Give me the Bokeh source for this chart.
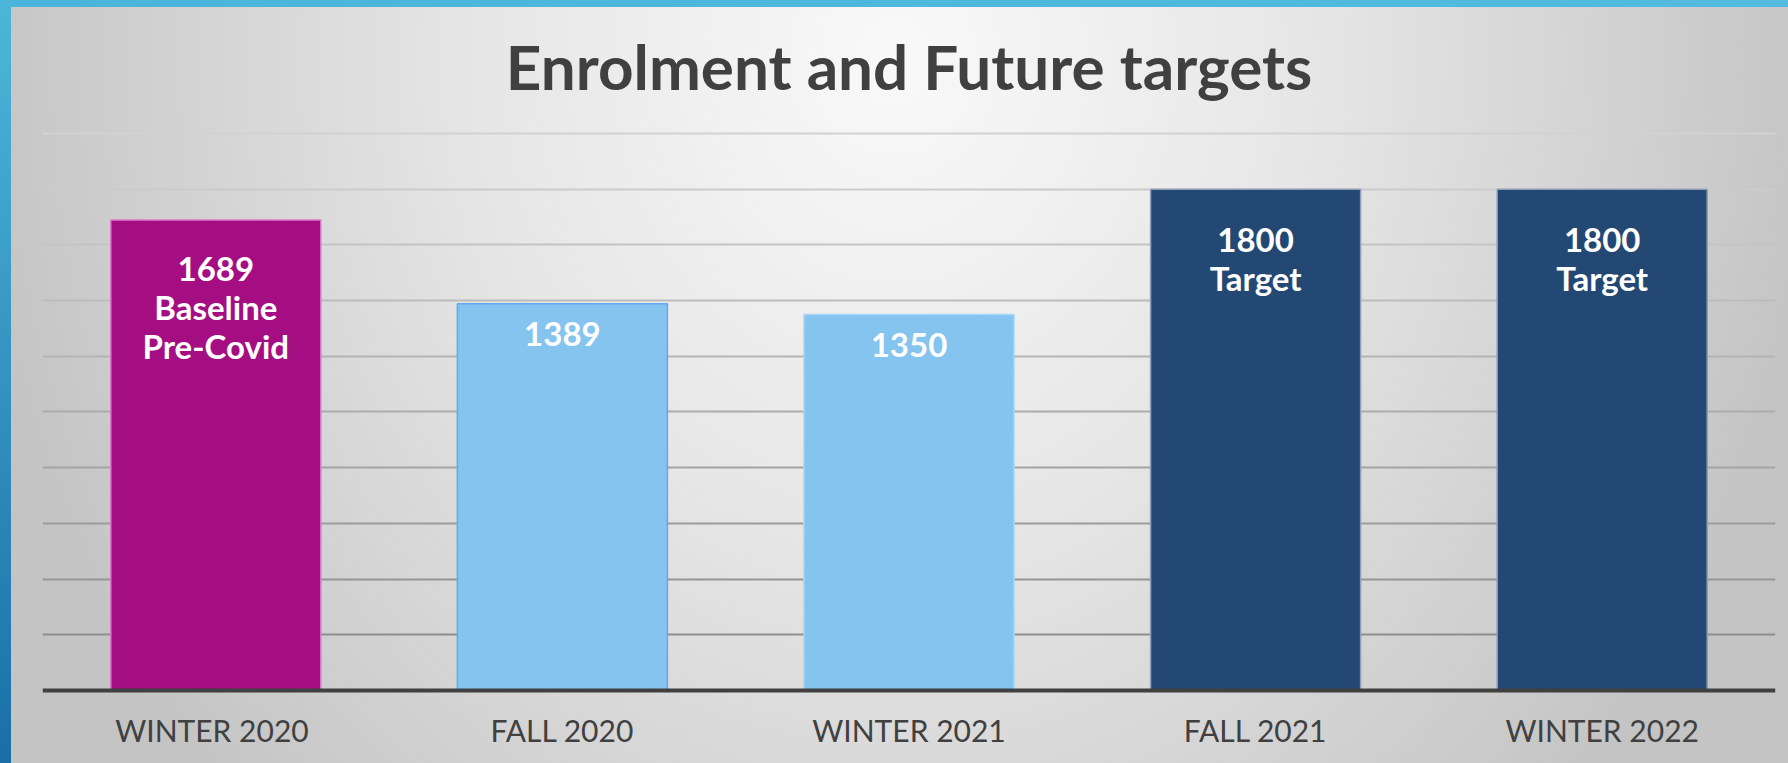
from bokeh.plotting import figure
from bokeh.models import ColumnDataSource, Range1d
from bokeh.core.properties import value
from bokeh.embed import file_html
from bokeh.resources import INLINE

# ---- data ----
categories = ["WINTER  2020", "FALL 2020", "WINTER 2021", "FALL 2021", "WINTER 2022"]
enrolment = [1689, 1389, 1350, 1800, 1800]
bar_labels = ["1689\nBaseline\nPre-Covid", "1389", "1350", "1800\nTarget", "1800\nTarget"]
grid_values = [200, 400, 600, 800, 1000, 1200, 1400, 1600, 1800, 2000]
title_text = "Enrolment and Future targets"

# ---- styles ----
bar_fill = ["#a50e82", "#85c4ef", "#85c4ef", "#244874", "#244874"]
bar_line = ["#d77cc7", "#62a9f2", "#a9d6f5", "#8e9fb6", "#8e9fb6"]
label_dy = [28, 18, 18, 29.5, 29.5]
grid_colors = ["#8e8e8e", "#959595", "#9c9c9c", "#a4a4a4", "#acacac",
               "#b4b4b4", "#bcbcbc", "#c4c4c4", "#cbcbcb", "#d2d2d2"]

src = ColumnDataSource(dict(x=categories, top=enrolment, label=bar_labels,
                            fill=bar_fill, line=bar_line, dy=label_dy))
gsrc = ColumnDataSource(dict(y=grid_values, c=grid_colors))

p = figure(width=1788, height=763, x_range=categories,
           y_range=Range1d(-262.1, 2021.5),
           output_backend="svg", toolbar_location=None,
           min_border_left=42, min_border_right=13, min_border_top=127, min_border_bottom=0)

p.styles = {
    "background": "linear-gradient(to bottom, #4db6da, #1a6fa6) 0 0 / 11px 100% no-repeat, "
                  "linear-gradient(to right, #4ab4da, #52bbdf) 0 0 / 100% 7px no-repeat, "
                  "radial-gradient(ellipse 52% 140% at 50% 8%, #f9f9f9 0%, #e6e6e6 45%, #c4c4c4 100%)"
}
p.background_fill_color = None
p.border_fill_color = None
p.outline_line_color = None

p.title.text = title_text
p.title.text_font = "Lato"
p.title.text_font_size = "62px"
p.title.text_font_style = "bold"
p.title.text_color = "#404040"
p.title.align = "center"
p.title.standoff = 50

p.xgrid.visible = False
p.ygrid.visible = False
p.hspan(y="y", line_color="c", line_width=2, source=gsrc)

p.vbar(x="x", top="top", width=0.606, fill_color="fill", line_color="line",
       line_width=1.5, source=src)

p.text(x="x", y="top", text="label", source=src, y_offset="dy",
       text_color="white", text_font=value("Lato"), text_font_style="bold",
       text_font_size="33px", text_align="center", text_baseline="top",
       text_line_height=0.98)

p.yaxis.visible = False
ax = p.xaxis[0]
ax.fixed_location = 0
ax.axis_line_color = "#404040"
ax.axis_line_width = 4
ax.major_tick_line_color = None
ax.minor_tick_line_color = None
ax.major_tick_out = 0
ax.minor_tick_out = 0
ax.major_label_text_font = "Lato"
ax.major_label_text_font_size = "30px"
ax.major_label_text_color = "#404040"
ax.major_label_standoff = 21

open("out.html", "w").write(file_html(p, INLINE))
